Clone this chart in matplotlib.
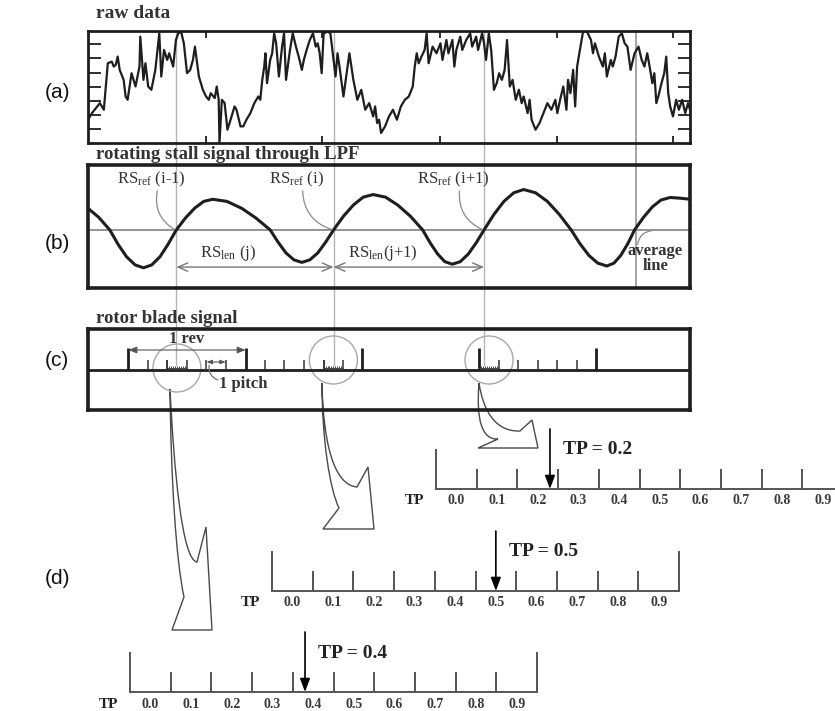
import matplotlib
matplotlib.use("Agg")
import matplotlib.pyplot as plt
import matplotlib.transforms as mtransforms
from matplotlib.patches import Ellipse, PathPatch
from matplotlib.path import Path

plt.rcParams['font.family'] = ['Liberation Serif', 'DejaVu Serif']
plt.rcParams['mathtext.fontset'] = 'custom'
plt.rcParams['mathtext.rm'] = 'Liberation Serif'
plt.rcParams['mathtext.it'] = 'Liberation Serif:italic'
plt.rcParams['mathtext.bf'] = 'Liberation Serif:bold'

# ---------------- data ----------------
# (a) raw pressure trace: sample position / level
raw_time = [20, 30, 40, 50, 60, 70, 80, 85, 90, 95, 100, 110, 115, 120, 130, 140, 150, 152,
            160, 165, 172, 180, 185, 190, 200, 205, 212, 220, 225, 235, 242, 248, 255, 262,
            270, 278, 285, 290, 300, 310, 318, 325, 330, 340, 345, 350, 352, 358, 365, 372,
            380, 390, 395, 405, 412, 420, 430, 440, 450, 455, 460, 465, 468, 472, 480, 485,
            490, 495, 502, 510, 515, 520, 530, 537, 545, 552, 560, 565, 572, 580, 588, 595,
            600, 605, 610, 615, 625, 632, 640, 645, 650, 655, 665, 680, 690, 700, 710, 720,
            730, 740, 745, 750, 755, 760, 770, 780, 790, 800, 810, 820, 830, 840, 845, 850,
            855, 862, 870, 875, 880, 890, 900, 910, 915, 925, 930, 940, 945, 950, 960, 965,
            975, 985, 990, 1000, 1005, 1015, 1020, 1025, 1032, 1038, 1045, 1052, 1058, 1065,
            1072, 1078, 1085, 1092, 1100, 1108, 1115, 1120, 1130, 1135, 1140, 1150, 1160,
            1170, 1180, 1190, 1200, 1205, 1212, 1220, 1228, 1232, 1238, 1245, 1250, 1255,
            1262, 1270, 1280, 1290, 1295, 1300, 1310, 1320, 1325, 1330, 1340, 1345, 1352,
            1360, 1368, 1375, 1382, 1390, 1400, 1410, 1418, 1425, 1432, 1438, 1445, 1450,
            1455, 1460, 1468, 1475, 1480, 1485, 1490, 1497, 1505, 1512, 1520, 1528, 1535, 1540]
raw_level = [70, 90, 105, 120, 100, 240, 245, 230, 235, 260, 220, 190, 140, 130, 210, 170, 230, 320,
             190, 240, 170, 160, 190, 220, 330, 200, 280, 250, 270, 230, 310, 330, 335, 300,
             210, 220, 250, 290, 200, 160, 140, 130, 150, 135, 170, 130, 0, 130, 120, 40,
             70, 110, 100, 50, 50, 70, 90, 120, 140, 130, 190, 230, 270, 180, 250, 270,
             330, 300, 200, 290, 330, 190, 280, 330, 290, 260, 220, 250, 280, 310, 330, 290,
             300, 270, 210, 330, 335, 330, 250, 200, 270, 230, 140, 270, 190, 130, 160, 100,
             120, 80, 110, 60, 70, 30, 50, 80, 100, 70, 110, 130, 140, 170, 230, 270,
             240, 260, 280, 330, 240, 290, 270, 300, 250, 310, 270, 310, 230, 280, 320, 280,
             310, 330, 290, 320, 280, 330, 300, 250, 330, 280, 160, 180, 210, 190,
             220, 310, 170, 190, 130, 160, 120, 140, 90, 130, 70, 40, 60,
             90, 120, 100, 130, 90, 130, 170, 100, 190, 150, 220, 110, 230,
             280, 335, 335, 310, 270, 300, 260, 230, 270, 200, 250, 230, 260,
             320, 330, 300, 290, 220, 270, 290, 250, 230, 270, 230, 180, 210,
             120, 140, 180, 210, 260, 150, 110, 80, 130, 100, 130, 90, 120, 100]

# (b) low-pass filtered rotating stall signal
lpf_time = [20, 47, 75, 96, 117, 139, 160, 181, 202, 222, 243, 266, 289, 312, 335, 371, 408,
            444, 480, 500, 520, 540, 560, 580, 600, 620, 640, 665, 690, 715, 740, 771, 802,
            834, 865, 884, 903, 921, 940, 960, 980, 1000, 1020, 1045, 1070, 1095, 1120, 1150,
            1180, 1210, 1240, 1262, 1285, 1307, 1330, 1348, 1365, 1383, 1400, 1422, 1445,
            1467, 1490, 1515, 1540]
lpf_level = [60, 35, 0, -40, -74, -97, -105, -97, -74, -40, 0, 33, 60, 79, 85, 79, 60,
             33, 0, -34, -64, -83, -90, -83, -64, -34, 0, 38, 69, 91, 98, 91, 69,
             38, 0, -36, -67, -88, -95, -88, -67, -36, 0, 43, 79, 103, 112, 103,
             79, 43, 0, -38, -71, -92, -100, -92, -71, -38, 0, 34, 64,
             83, 90, 88, 85]
rising_cross = [243, 640, 1020, 1403]
ref_labels = [r"RS$_{\rm ref}$ (i-1)", r"RS$_{\rm ref}$ (i)", r"RS$_{\rm ref}$ (i+1)"]
len_labels = [r"RS$_{\rm len}$ (j)", r"RS$_{\rm len}$(j+1)"]

# (c) rotor blade signal
rev_marks = [122, 418, 713, 1008, 1302]
blade_marks = [171, 220, 269, 319, 368, 467, 516, 566, 615, 664, 1057, 1106, 1155, 1205, 1254]
comb_start = [220, 615, 1008]
blade_pitch = 49.2

# (d) time-position scales, top to bottom
tp_values = [0.23, 0.50, 0.38]
tp_bins = [0.0, 0.1, 0.2, 0.3, 0.4, 0.5, 0.6, 0.7, 0.8, 0.9]

# ---------------- layout helpers ----------------
W, H = 835, 711
fig = plt.figure(figsize=(W / 100, H / 100), dpi=100)
DARK = '#1e1e1e'
GREY = '#b4b4b4'


def px_axes(x0, y0, x1, y1, z=2):
    ax = fig.add_axes([x0 / W, 1 - y1 / H, (x1 - x0) / W, (y1 - y0) / H], zorder=z)
    ax.set_facecolor('none')
    return ax


def ftext(x, y, s, **kw):
    fig.text(x / W, 1 - y / H, s, **kw)


ov = fig.add_axes([0, 0, 1, 1], zorder=1)
ov.set_xlim(0, W)
ov.set_ylim(H, 0)
ov.axis('off')

# ---------------- (a) raw data ----------------
ax_a = px_axes(88, 31, 690, 143)
ax_a.plot(raw_time, raw_level, color=DARK, lw=1.6)
ax_a.set_xlim(20, 1540)
ax_a.set_ylim(0, 337)
ax_a.set_xticks([318, 612, 908, 1203, 1497])
ax_a.set_yticks([42, 85, 127, 170, 212, 255, 297])
ax_a.tick_params(direction='in', top=True, right=True, labelbottom=False,
                 labelleft=False, width=1.3, color=DARK)
ax_a.tick_params(axis='x', length=5)
ax_a.tick_params(axis='y', length=9)
for sp in ax_a.spines.values():
    sp.set_linewidth(2)
    sp.set_color(DARK)

# ---------------- (b) LPF signal ----------------
ax_b = px_axes(88, 165, 690, 288)
ax_b.set_xlim(20, 1540)
ax_b.set_ylim(-161, 180)
ax_b.axhline(0, color='#8a8a8a', lw=1.3)
ax_b.plot(lpf_time, lpf_level, color=DARK, lw=2.2, solid_joinstyle='round')
ax_b.set_xticks([])
ax_b.set_yticks([])
for sp in ax_b.spines.values():
    sp.set_linewidth(2.6)
    sp.set_color(DARK)

ref_start = [195, 562, 958]
for cx, lab, sx in zip(rising_cross[:3], ref_labels, ref_start):
    ax_b.text(sx - 15, 140, lab, ha='center', va='center', fontsize=12, color='#333')
    ax_b.annotate('', xy=(cx - 4, 1), xytext=(sx, 108),
                  arrowprops=dict(arrowstyle='-', color='#8a8a8a', lw=0.9,
                                  connectionstyle='arc3,rad=0.35', shrinkA=0, shrinkB=0))

for (a, b), lab in zip([(rising_cross[0], rising_cross[1]), (rising_cross[1], rising_cross[2])],
                       len_labels):
    ax_b.annotate('', xy=(b, -103), xytext=(a, -103),
                  arrowprops=dict(arrowstyle='<->,head_length=0.7,head_width=0.3',
                                  color='#777', lw=1.0, shrinkA=0, shrinkB=0))
    ax_b.text(a + 0.33 * (b - a), -64, lab, ha='center', va='center', fontsize=12, color='#333')

ax_b.text(1452, -80, "average\nline", ha='center', va='center', fontsize=12,
          weight='bold', color='#333', linespacing=0.95)
ax_b.annotate('', xy=(1445, -2), xytext=(1408, -40),
              arrowprops=dict(arrowstyle='-', color='#8a8a8a', lw=0.9,
                              connectionstyle='arc3,rad=-0.4', shrinkA=0, shrinkB=0))

# ---------------- (c) rotor blade signal ----------------
ax_c = px_axes(88, 329, 690, 410)
ax_c.set_xlim(20, 1540)
ax_c.set_ylim(-40, 41)
ax_c.axhline(0, color=DARK, lw=2)
ax_c.vlines(rev_marks, 0, 22, color=DARK, lw=2)
ax_c.vlines(blade_marks, 0, 10, color='#333', lw=1.1)
for c0 in comb_start:
    sub = [c0 + blade_pitch * k / 10 for k in range(1, 10)]
    ax_c.vlines(sub, 0, 4, color='#444', lw=0.7)
    ax_c.plot([c0, c0 + blade_pitch], [2, 2], color='#444', lw=0.7)
ax_c.vlines([comb_start[0], comb_start[1]], 0, 10, color='#333', lw=1.1)
ax_c.set_xticks([])
ax_c.set_yticks([])
for sp in ax_c.spines.values():
    sp.set_linewidth(2.6)
    sp.set_color(DARK)

circle_y = [2, 10, 10]
for c0, cy in zip(comb_start, circle_y):
    ax_c.add_patch(Ellipse((c0 + blade_pitch / 2, cy), width=48 * 1520 / 602, height=48,
                           fill=False, edgecolor='#a8a8a8', lw=1.0, clip_on=False))

ax_c.annotate('', xy=(rev_marks[1], 20), xytext=(rev_marks[0], 20),
              arrowprops=dict(arrowstyle='<|-|>,head_length=0.5,head_width=0.2',
                              color='#555', lw=0.8, shrinkA=0, shrinkB=0, mutation_scale=10))
ax_c.text((rev_marks[0] + rev_marks[1]) / 2, 31, "1 rev", ha='center', va='center',
          fontsize=12, weight='bold', color='#333')
ax_c.annotate('', xy=(blade_marks[4], 8), xytext=(blade_marks[3], 8),
              arrowprops=dict(arrowstyle='<|-|>,head_length=0.4,head_width=0.15',
                              color='#555', lw=0.8, shrinkA=0, shrinkB=0, mutation_scale=8))
ax_c.text(351, -14, "1 pitch", ha='left', va='center', fontsize=12, weight='bold', color='#333')
ax_c.annotate('', xy=(348, -10), xytext=(326, 5),
              arrowprops=dict(arrowstyle='-', color='#777', lw=0.9,
                              connectionstyle='arc3,rad=0.4', shrinkA=0, shrinkB=0))

# ---------------- guide lines through the panels ----------------
tr = mtransforms.blended_transform_factory(ax_b.transData, ov.transData)
for cx in rising_cross[:3]:
    ov.plot([cx, cx], [31, 365], transform=tr, color=GREY, lw=1.0)
ov.plot([rising_cross[3]] * 2, [31, 288], transform=tr, color='#8c8c8c', lw=1.1)

# ---------------- callout arrows ----------------
callouts = [
    [(170, 389), (171, 480), (176, 560), (184, 597), (172, 630), (212, 630), (206, 527),
     (197, 562), (182, 560), (174, 470), (170, 389)],
    [(322, 383), (322, 440), (330, 490), (339, 508), (323, 529), (374, 529), (368, 467),
     (357, 487), (333, 485), (323, 440), (322, 383)],
    [(479, 383), (476, 420), (482, 440), (498, 439), (478, 448), (538, 448), (532, 420),
     (520, 431), (495, 432), (483, 410), (479, 383)],
]
codes = [Path.MOVETO, Path.CURVE4, Path.CURVE4, Path.CURVE4, Path.LINETO, Path.LINETO,
         Path.LINETO, Path.LINETO, Path.CURVE4, Path.CURVE4, Path.CURVE4]
for verts in callouts:
    ov.add_patch(PathPatch(Path(verts, codes), facecolor='none', edgecolor='#4a4a4a',
                           lw=1.0, joinstyle='miter'))

# ---------------- (d) TP scales ----------------
scale_pos = [(436, 489), (272, 591), (130, 692)]
edge_ticks = [tp_bins[0] - 0.05, tp_bins[-1] + 0.05]
inner_ticks = [v + 0.05 for v in tp_bins[:-1]]
for (x0, yb), tp in zip(scale_pos, tp_values):
    ax_s = px_axes(x0, yb - 62, x0 + 407, yb, z=3)
    ax_s.set_xlim(edge_ticks[0], edge_ticks[1])
    ax_s.set_ylim(0, 62)
    ax_s.axis('off')
    ax_s.plot(edge_ticks, [0, 0], color='#555', lw=1.4, clip_on=False)
    ax_s.vlines(edge_ticks, 0, 40, color='#555', lw=1.4, clip_on=False)
    ax_s.vlines(inner_ticks, 0, 20, color='#555', lw=1.4, clip_on=False)
    for v in tp_bins:
        ax_s.text(v, -12, f"{v:.1f}", ha='center', va='center', fontsize=10,
                  weight='bold', color='#3a3a3a', clip_on=False)
    ax_s.text(edge_ticks[0] - 0.054, -12, "TP", ha='center', va='center', fontsize=11,
              weight='bold', color='#222', clip_on=False)
    ax_s.annotate('', xy=(tp, 0), xytext=(tp, 60),
                  arrowprops=dict(arrowstyle='-|>,head_length=0.8,head_width=0.3',
                                  color='black', lw=1.2, shrinkA=0, shrinkB=0))
    ax_s.annotate(f"TP = {tp:.1f}", xy=(tp, 0), xytext=(13, 39), textcoords='offset pixels',
                  ha='left', va='center', fontsize=14, weight='bold', color='#222')

# ---------------- titles and panel letters ----------------
ftext(96, 18, "raw data", ha='left', va='baseline', fontsize=14, weight='bold', color='#333')
ftext(96, 159, "rotating stall signal through LPF", ha='left', va='baseline', fontsize=13.5,
      weight='bold', color='#333')
ftext(96, 323, "rotor blade signal", ha='left', va='baseline', fontsize=13.5, weight='bold',
      color='#333')
for lab, y in zip(["(a)", "(b)", "(c)", "(d)"], [92, 243, 360, 578]):
    ftext(57, y, lab, ha='center', va='center', fontsize=15, family='Liberation Sans',
          color='#111')

fig.savefig("out.png", dpi=100)
